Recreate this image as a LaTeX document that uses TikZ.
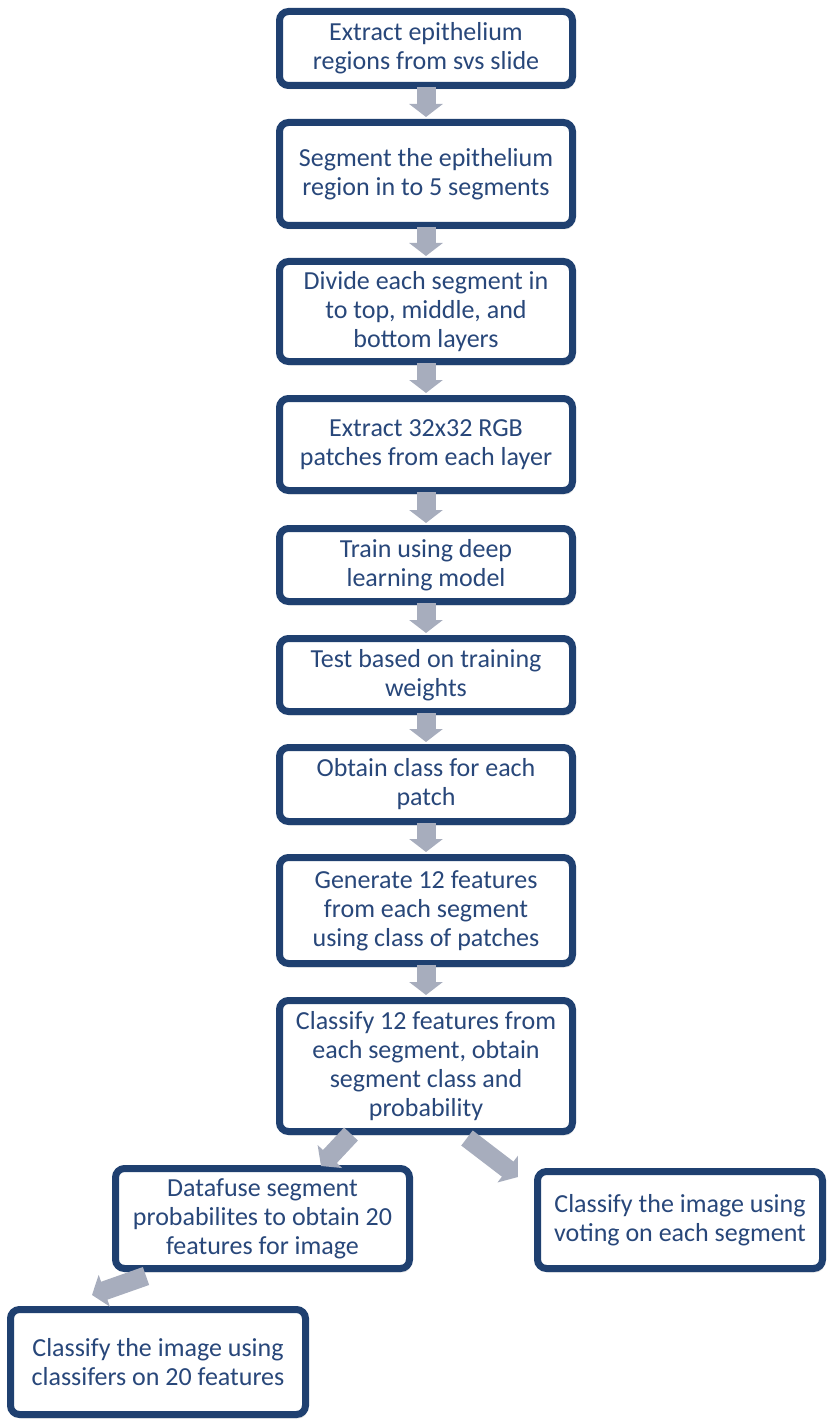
\documentclass[tikz,border=0pt]{standalone}
\usepackage{fontspec}
\setmainfont{Carlito}
\usetikzlibrary{arrows.meta,shadows}
\definecolor{boxblue}{RGB}{31,64,112}
\definecolor{txtblue}{RGB}{40,71,122}
\definecolor{arrgray}{RGB}{167,173,189}
\begin{document}
\begin{tikzpicture}[x=1pt,y=-1pt,
  stepbox/.style={draw=boxblue, line width=7pt, rounded corners=9pt, fill=white,
    align=center, text=txtblue, font=\fontsize{26}{29}\selectfont, inner sep=0pt,
    drop shadow={opacity=0.18, shadow xshift=2pt, shadow yshift=-4pt}},
  colbox/.style={stepbox, minimum width=293pt},
  blockarr/.style={draw=arrgray, line width=19pt, line cap=butt,
    -{Triangle[width=33pt,length=13pt]}}
]
\useasboundingbox (0,0) rectangle (827,1420);

\node[colbox, minimum height=74pt]  (b1) at (426,48.5) {Extract epithelium\\regions from svs slide};
\node[colbox, minimum height=103pt] (b2) at (426,174) {Segment the epithelium\\region in to 5 segments};
\node[colbox, minimum height=100pt] (b3) at (426,311.5) {Divide each segment in\\to top, middle, and\\bottom layers};
\node[colbox, minimum height=92pt]  (b4) at (426,444.5) {Extract 32x32 RGB\\patches from each layer};
\node[colbox, minimum height=73pt]  (b5) at (426,565) {Train using deep\\learning model};
\node[colbox, minimum height=73pt]  (b6) at (426,675) {Test based on training\\weights};
\node[colbox, minimum height=74pt]  (b7) at (426,784.5) {Obtain class for each\\patch};
\node[colbox, minimum height=106pt] (b8) at (426,910.5) {Generate 12 features\\from each segment\\using class of patches};
\node[colbox, minimum height=131pt] (b9) at (426,1066) {Classify 12 features from\\each segment, obtain\\segment class and\\probability};
\node[stepbox, minimum width=294pt, minimum height=100pt] (b10) at (262.5,1218.5) {Datafuse segment\\probabilites to obtain 20\\features for image};
\node[stepbox, minimum width=295pt, minimum height=105pt] (b11) at (158,1362) {Classify the image using\\classifers on 20 features};
\node[stepbox, minimum width=285pt, minimum height=97pt] (b12) at (680,1220) {Classify the image using\\voting on each segment};

\foreach \a/\b in {b1/b2,b2/b3,b3/b4,b4/b5,b5/b6,b6/b7,b7/b8,b8/b9}{
  \draw[blockarr] ([yshift=2pt]\a.south) -- ([yshift=2pt]\b.north);
}
\draw[blockarr] ([xshift=-75pt,yshift=1pt]b9.south) -- ([xshift=58.5pt,yshift=-1pt]b10.north);
\draw[blockarr] ([xshift=41pt,yshift=-3pt]b9.south) -- ([xshift=-16pt,yshift=-9pt]b12.north west);
\draw[blockarr] ([xshift=-116.5pt,yshift=-4pt]b10.south) -- ([xshift=-66pt,yshift=11pt]b11.north);
\end{tikzpicture}
\end{document}
